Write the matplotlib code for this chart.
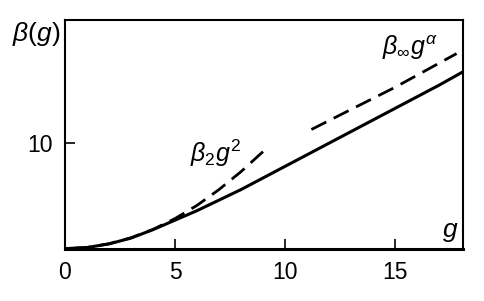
import matplotlib
matplotlib.use('Agg')
import matplotlib.pyplot as plt

plt.rcParams['font.family'] = ['Liberation Sans', 'DejaVu Sans']
plt.rcParams['mathtext.fontset'] = 'custom'
plt.rcParams['mathtext.rm'] = 'Liberation Sans'
plt.rcParams['mathtext.it'] = 'Liberation Sans:italic'
plt.rcParams['mathtext.bf'] = 'Liberation Sans:bold'

# 實線 β(g)
g_full = [0, 1, 2, 3, 4, 5, 6, 7, 8, 9, 10, 11, 12, 13, 14, 15, 16, 17, 18.2]
beta_full = [0, 0.1, 0.45, 1.0, 1.8, 2.7, 3.6, 4.6, 5.6, 6.7, 7.8, 8.9, 10.0, 11.1, 12.2, 13.3, 14.4, 15.5, 16.9]

# 虛線 β2 g^2 (小 g)，從 g=9 往回畫，讓末端是完整的一段
g_small = [9, 8, 7, 6, 5, 4, 3, 2, 1, 0]
beta_small = [9.2, 7.3, 5.6, 4.1, 2.85, 1.82, 1.03, 0.46, 0.11, 0]

# 虛線 β∞ g^α (大 g)
g_large = [11.2, 13, 15, 17.8]
beta_large = [11.3, 13.2, 15.3, 18.5]

fig = plt.figure(figsize=(4.85, 3.01), dpi=100)
ax = fig.add_axes([0.134, 0.174, 0.821, 0.76])

ax.plot(g_full, beta_full, color='black', lw=2.2, solid_capstyle='butt')
ax.plot(g_small, beta_small, color='black', lw=2.0, dashes=(6, 3), dash_capstyle='butt')
ax.plot(g_large, beta_large, color='black', lw=2.0, dashes=(6, 3), dash_capstyle='butt')

ax.set_xlim(0, 18.1)
ax.set_ylim(0, 21.7)
ax.set_xticks([0, 5, 10, 15])
ax.set_yticks([10])
ax.tick_params(direction='in', length=7, width=1.2, labelsize=16.5, pad=9)
for s in ax.spines.values():
    s.set_linewidth(1.5)
ax.spines['bottom'].set_linewidth(2.2)

fig.text(0.025, 0.865, r'$\beta(g)$', fontsize=19)
ax.text(17.15, 1.1, r'$g$', fontsize=19)
ax.text(5.7, 8.2, r'$\beta_2g^2$', fontsize=18)
ax.text(14.4, 18.4, r'$\beta_\infty g^\alpha$', fontsize=18)

fig.savefig('out.png', dpi=100)
